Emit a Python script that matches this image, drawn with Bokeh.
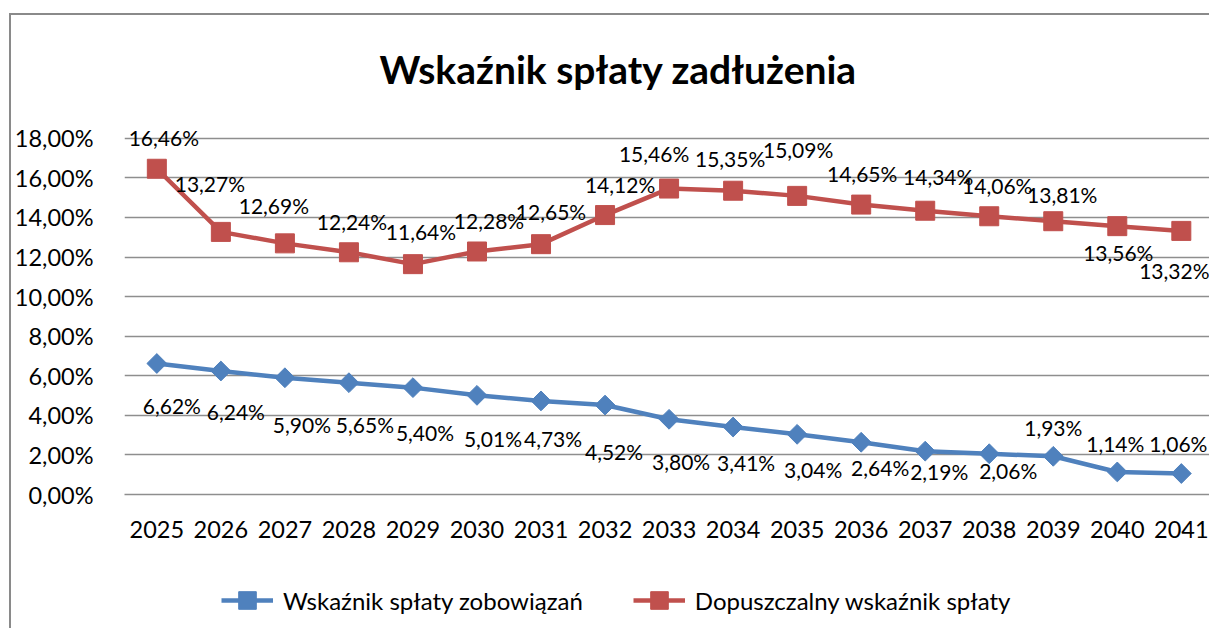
from bokeh.plotting import figure
from bokeh.layouts import column
from bokeh.models import Range1d, FixedTicker, Legend, LegendItem, ColumnDataSource
from bokeh.core.properties import value
from bokeh.embed import file_html
from bokeh.resources import INLINE
import math

# ---------------- data ----------------
years = list(range(2025, 2042))
wskaznik_splaty = [6.62, 6.24, 5.90, 5.65, 5.40, 5.01, 4.73, 4.52, 3.80, 3.41,
                   3.04, 2.64, 2.19, 2.06, 1.93, 1.14, 1.06]
dopuszczalny_wskaznik = [16.46, 13.27, 12.69, 12.24, 11.64, 12.28, 12.65, 14.12, 15.46,
                         15.35, 15.09, 14.65, 14.34, 14.06, 13.81, 13.56, 13.32]
y_ticks = [0, 2, 4, 6, 8, 10, 12, 14, 16, 18]
y_tick_labels = ["0,00%", "2,00%", "4,00%", "6,00%", "8,00%", "10,00%",
                 "12,00%", "14,00%", "16,00%", "18,00%"]
series_names = ["Wskaźnik spłaty zobowiązań", "Dopuszczalny wskaźnik spłaty"]
title_text = "Wskaźnik spłaty zadłużenia"

# ---------------- label placement (screen px, layout only) ----------------
blue_dx = [15, 15, 17, 16, 12, 16, 12, 9, 12, 13, 16, 19, 14, 19, 0, -2, -3]
blue_dy = [42, 40, 47, 42, 45, 43, 38, 46, 42, 35, 35, 25, 20, 17, -29, -28, -30]
red_dx = [7, -11, -11, 3, 8, 12, 10, 15, -15, -3, 1, 1, 13, 8, 9, 1, -7]
red_dy = [-31, -48, -38, -31, -33, -31, -33, -31, -35, -32, -46, -31, -34, -31, -27, 26, 40]


def fmt(v):
    return f"{v:.2f}".replace(".", ",") + "%"


BLUE = "#4F81BD"
RED = "#C0504D"
GRID = "#8e8e8e"
FONT = "Lato"

blue_src = ColumnDataSource(dict(x=years, y=wskaznik_splaty,
                                 t=[fmt(v) for v in wskaznik_splaty],
                                 dx=blue_dx, dy=blue_dy))
red_src = ColumnDataSource(dict(x=years, y=dopuszczalny_wskaznik,
                                t=[fmt(v) for v in dopuszczalny_wskaznik],
                                dx=red_dx, dy=red_dy))

# ---------------- main chart ----------------
p = figure(width=1198, height=545, output_backend="svg", toolbar_location=None,
           x_range=Range1d(2024.495, 2041.44), y_range=Range1d(0, 19),
           min_border_left=107, min_border_right=0, min_border_top=103,
           min_border_bottom=66)
p.outline_line_color = None
p.background_fill_color = "white"
p.border_fill_color = "white"

p.title.text = title_text
p.title.align = "left"
p.title.vertical_align = "top"
p.title.text_font = FONT
p.title.text_font_style = "bold"
p.title.text_font_size = "39px"
p.title.text_color = "black"
p.title.offset = 255
p.title.standoff = 50

p.xgrid.grid_line_color = None
p.ygrid.grid_line_color = GRID
p.ygrid.grid_line_width = 1.6
p.ygrid.ticker = FixedTicker(ticks=y_ticks)

p.yaxis.ticker = FixedTicker(ticks=y_ticks)
p.yaxis.major_label_overrides = {t: l for t, l in zip(y_ticks, y_tick_labels)}
p.yaxis.axis_line_color = None
p.yaxis.major_tick_line_color = None
p.yaxis.minor_tick_line_color = None
p.yaxis.major_label_standoff = 25
p.yaxis.major_label_text_font = FONT
p.yaxis.major_label_text_font_size = "23.5px"
p.yaxis.major_label_text_color = "black"

p.xaxis.ticker = FixedTicker(ticks=years)
p.xaxis.axis_line_color = GRID
p.xaxis.axis_line_width = 1.6
p.xaxis.major_tick_line_color = None
p.xaxis.minor_tick_line_color = None
p.xaxis.major_label_standoff = 20
p.xaxis.major_label_text_font = FONT
p.xaxis.major_label_text_font_size = "23.5px"
p.xaxis.major_label_text_color = "black"

p.line("x", "y", source=blue_src, line_color=BLUE, line_width=4.5)
p.scatter("x", "y", source=blue_src, marker="square", size=14, angle=math.pi / 4,
          fill_color=BLUE, line_color=BLUE)
p.line("x", "y", source=red_src, line_color=RED, line_width=4.5)
p.scatter("x", "y", source=red_src, marker="square", size=19,
          fill_color=RED, line_color=RED)

for src in (blue_src, red_src):
    p.text("x", "y", text="t", source=src, x_offset="dx", y_offset="dy",
           text_align="center", text_baseline="middle",
           text_font=value(FONT), text_font_size="21px", text_color="black")

# ---------------- legend strip (same series; view range keeps lines off-screen) ----------------
lf = figure(width=1198, height=68, output_backend="svg", toolbar_location=None,
            x_range=Range1d(0, 1), y_range=Range1d(0, 1),
            x_axis_location=None, y_axis_location=None,
            min_border=0)
lf.outline_line_color = None
lf.grid.grid_line_color = None
lf.background_fill_color = "white"
lf.border_fill_color = "white"
lbl = lf.line("x", "y", source=blue_src, line_color=BLUE, line_width=4.5)
lbm = lf.scatter("x", "y", source=blue_src, marker="square", angle=math.pi / 4,
                 fill_color=BLUE, line_color=BLUE)
lrl = lf.line("x", "y", source=red_src, line_color=RED, line_width=4.5)
lrm = lf.scatter("x", "y", source=red_src, marker="square",
                 fill_color=RED, line_color=RED)

legend = Legend(items=[LegendItem(label=series_names[0], renderers=[lbl, lbm]),
                       LegendItem(label=series_names[1], renderers=[lrl, lrm])],
                orientation="horizontal", location=(97, 6),
                margin=0, padding=0, spacing=50,
                glyph_width=52, glyph_height=44, label_height=26,
                label_standoff=10, border_line_color=None,
                background_fill_alpha=0,
                label_text_font=FONT, label_text_font_size="24px",
                label_text_color="black")
lf.add_layout(legend)

layout = column(p, lf, spacing=0,
                styles={"border-left": "2px solid #8a8a8a", "border-top": "2px solid #8a8a8a",
                        "margin-left": "9px", "margin-top": "13px"})

open("out.html", "w").write(file_html(layout, INLINE))
